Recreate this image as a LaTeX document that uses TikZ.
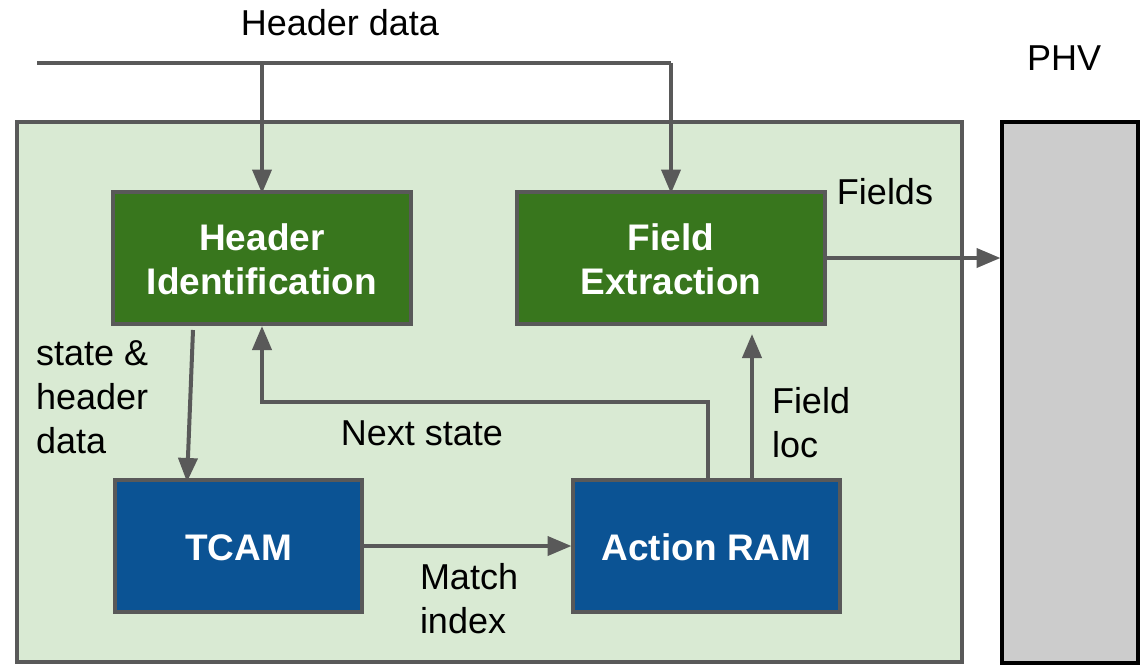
\documentclass[tikz,border=0pt]{standalone}
\usepackage{fontspec}
\setmainfont{Liberation Sans}
\usetikzlibrary{arrows.meta,calc}
\definecolor{bggreen}{HTML}{D9EAD3}
\definecolor{dkgreen}{HTML}{38761D}
\definecolor{dkblue}{HTML}{0B5394}
\definecolor{linegray}{HTML}{595959}
\definecolor{phvgray}{HTML}{CCCCCC}
\tikzset{
  lbl/.style={font=\fontsize{36}{44}\selectfont, inner sep=0pt, outer sep=0pt, text=black},
  blk/.style={draw=linegray, line width=4pt, inner sep=0pt, outer sep=0pt,
    text=white, align=center, font=\fontsize{37}{44}\selectfont\bfseries, minimum height=132},
  gblk/.style={blk, fill=dkgreen},
  bblk/.style={blk, fill=dkblue},
  conn/.style={draw=linegray, line width=4pt},
  arr/.style={conn, -{Triangle[length=24pt,width=19pt]}},
}
\begin{document}
\begin{tikzpicture}[x=1pt,y=-1pt]
\useasboundingbox (0,0) rectangle (1140,665);
% outer boxes
\node[draw=linegray, fill=bggreen, line width=4pt, minimum width=945, minimum height=540, inner sep=0pt, outer sep=0pt] (parser) at (489.5,392) {};
\node[draw=black, fill=phvgray, line width=3.5pt, minimum width=136, minimum height=541, inner sep=0pt, outer sep=0pt] (phv) at (1070,392.5) {};
\node[lbl, anchor=base] (phvlbl) at (1064,70) {PHV};
% blocks
\node[gblk, minimum width=298] (hi) at (262,258) {};
\node[gblk, minimum width=308] (fe) at (671,258) {};
\node[bblk, minimum width=247] (tcam) at (238.5,546) {};
\node[bblk, minimum width=267] (aram) at (706.5,546) {};
\node[blk, draw=none, fill=none, anchor=center] (hitxt) at ([yshift=-1.5]hi.center) {Header\\Identification};
\node[blk, draw=none, fill=none, anchor=center] (fetxt) at ([yshift=-1.5]fe.center) {Field\\Extraction};
\node[blk, draw=none, fill=none, minimum height=0, anchor=base] (tcamtxt) at (238.5,560) {TCAM};
\node[blk, draw=none, fill=none, minimum height=0, anchor=base] (aramtxt) at (706.5,560) {Action RAM};
% header data
\node[lbl, anchor=base] (hdlbl) at (340,35) {Header data};
\coordinate (hdstart) at (37,63);
\coordinate (hdend) at (671,63);
\draw[conn] (hdstart) -- (hdend);
\draw[arr] (hi.north |- hdstart) -- ([yshift=-1.5]hi.north);
\draw[arr] (hdend) -- ([yshift=-1.5]fe.north);
% fields
\draw[arr] (fe.east) -- ([xshift=-1.5]fe.east -| phv.west);
\node[lbl, anchor=base] (fieldslbl) at (885,204) {Fields};
% state & header data
\coordinate (sa) at (193,330);
\draw[arr] (sa) -- ([xshift=72,yshift=-2]tcam.north west);
\node[lbl, anchor=base west] (s1) at (36,365) {state \&};
\node[lbl, anchor=base west] (s2) at (36,409) {header};
\node[lbl, anchor=base west] (s3) at (36,453) {data};
% next state
\draw[arr, shorten >=2pt] ([xshift=1.5]aram.north) |- ($(hi.south)+(0,78)$) -- (hi.south);
\node[lbl, anchor=base] (nslbl) at (422,445) {Next state};
% field loc
\draw[arr, shorten >=10pt] ([xshift=45.5]aram.north) -- ([xshift=81]fe.south);
\node[lbl, anchor=base west] (fl1) at (772,413) {Field};
\node[lbl, anchor=base west] (fl2) at (772,457) {loc};
% match index
\draw[arr] (tcam.east) -- ([xshift=-1.5]aram.west);
\node[lbl, anchor=base west] (mi1) at (420,589) {Match};
\node[lbl, anchor=base west] (mi2) at (420,633) {index};
\end{tikzpicture}
\end{document}
